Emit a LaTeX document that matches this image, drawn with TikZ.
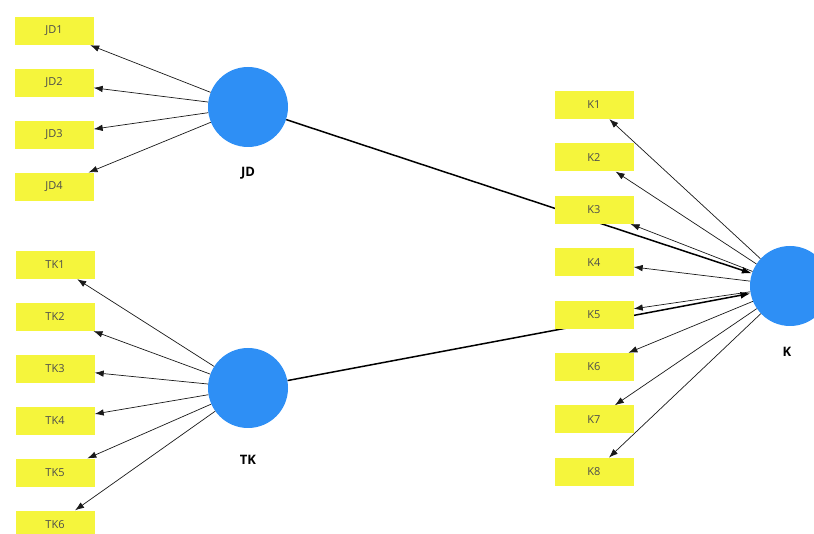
\documentclass[tikz,border=0pt]{standalone}
\usepackage{fontspec}
\setmainfont{Open Sans}
\usepackage{tikz}
\usetikzlibrary{positioning, calc, backgrounds}
\usetikzlibrary{arrows.meta}
\definecolor{latentblue}{RGB}{46,143,245}
\definecolor{itemyellow}{RGB}{245,245,60}
\tikzstyle{latent}=[circle,fill=latentblue,minimum size=80pt,inner sep=0pt]
\tikzstyle{itembox}=[rectangle,fill=itemyellow,minimum width=79pt,minimum height=28pt,
font=\fontsize{11}{13}\selectfont,text=black!70]
\tikzstyle{latentlabel}=[font=\bfseries\fontsize{13}{15}\selectfont]
\tikzstyle{loading} = [-{Latex[length=9pt,width=6.5pt]},line width=0.7pt,black!90]
\tikzstyle{pathline} = [-{Latex[length=10pt,width=7pt]},line width=1.5pt]

\begin{document}
\begin{tikzpicture}[x=1pt,y=-1pt,node distance=23.5pt]
        \clip (0,0) rectangle (814,534);

        % latent variables
        \node[latent] (JD) at (248,107) {};
        \node[latentlabel] (JDlab) at (248,173) {JD};
        \node[latent] (TK) at (248,388) {};
        \node[latentlabel] (TKlab) at (248,460) {TK};
        \node[latent] (K) at (790,286) {};
        \node[latentlabel] (Klab) at (787,352) {K};

        % indicators JD
        \node[itembox] (JD1) at (54,31) {JD1};
        \node[itembox, below =of JD1] (JD2) {JD2};
        \node[itembox, below =of JD2] (JD3) {JD3};
        \node[itembox, below =of JD3] (JD4) {JD4};

        % indicators TK
        \node[itembox] (TK1) at (55,265) {TK1};
        \node[itembox, below =of TK1] (TK2) {TK2};
        \node[itembox, below =of TK2] (TK3) {TK3};
        \node[itembox, below =of TK3] (TK4) {TK4};
        \node[itembox, below =of TK4] (TK5) {TK5};
        \node[itembox, below =of TK5] (TK6) {TK6};

        % indicators K
        \node[itembox] (K1) at (594,105) {K1};
        \node[itembox, below =24pt of K1] (K2) {K2};
        \node[itembox, below =24pt of K2] (K3) {K3};
        \node[itembox, below =24pt of K3] (K4) {K4};
        \node[itembox, below =24pt of K4] (K5) {K5};
        \node[itembox, below =24pt of K5] (K6) {K6};
        \node[itembox, below =24pt of K6] (K7) {K7};
        \node[itembox, below =24pt of K7] (K8) {K8};

        \path[loading]
            (JD) edge (JD1)
            (JD) edge (JD2)
            (JD) edge (JD3)
            (JD) edge (JD4);

        \path[loading]
            (TK) edge (TK1)
            (TK) edge (TK2)
            (TK) edge (TK3)
            (TK) edge (TK4)
            (TK) edge (TK5)
            (TK) edge (TK6);

        \path[loading]
            (K) edge (K1)
            (K) edge (K2)
            (K) edge (K3)
            (K) edge (K4)
            (K) edge (K5)
            (K) edge (K6)
            (K) edge (K7)
            (K) edge (K8);

        % structural paths, behind the boxes
        \begin{scope}[on background layer]
        \path[pathline]
            (JD) edge (K)
            (TK) edge (K);
        \end{scope}
    \end{tikzpicture}
\end{document}
